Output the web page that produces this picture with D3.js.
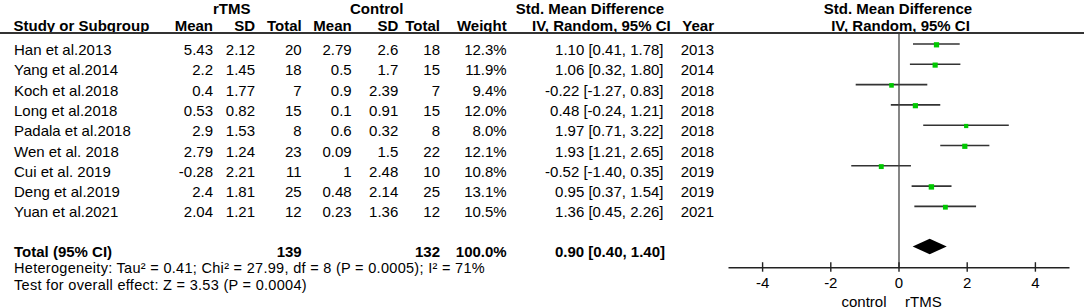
<!DOCTYPE html>
<html>
<head>
<meta charset="utf-8">
<script src="https://cdn.jsdelivr.net/npm/d3@7"></script>
<style>
  body { margin: 0; background: #fff; }
  text { font-family: "Liberation Sans", Arial, sans-serif; font-size: 15px; fill: #000; }
  .b { font-weight: bold; }
  .note { font-size: 14.5px; letter-spacing: 0.3px; }
</style>
</head>
<body>
<svg id="chart" width="1084" height="308"></svg>
<script>
// study data
const studies = ['Han et al.2013', 'Yang et al.2014', 'Koch et al.2018', 'Long et al.2018',
  'Padala et al.2018', 'Wen et al. 2018', 'Cui et al. 2019', 'Deng et al.2019', 'Yuan et al.2021']
const meanR = ['5.43', '2.2', '0.4', '0.53', '2.9', '2.79', '-0.28', '2.4', '2.04']
const sdR = ['2.12', '1.45', '1.77', '0.82', '1.53', '1.24', '2.21', '1.81', '1.21']
const totalR = [20, 18, 7, 15, 8, 23, 11, 25, 12]
const meanC = ['2.79', '0.5', '0.9', '0.1', '0.6', '0.09', '1', '0.48', '0.23']
const sdC = ['2.6', '1.7', '2.39', '0.91', '0.32', '1.5', '2.48', '2.14', '1.36']
const totalC = [18, 15, 7, 15, 8, 22, 10, 25, 12]
const weights = [12.3, 11.9, 9.4, 12.0, 8.0, 12.1, 10.8, 13.1, 10.5]
const smd = [1.10, 1.06, -0.22, 0.48, 1.97, 1.93, -0.52, 0.95, 1.36]
const lower = [0.41, 0.32, -1.27, -0.24, 0.71, 1.21, -1.40, 0.37, 0.45]
const upper = [1.78, 1.80, 0.83, 1.21, 3.22, 2.65, 0.35, 1.54, 2.26]
const years = [2013, 2014, 2018, 2018, 2018, 2018, 2019, 2019, 2021]

// pooled result
const pooled = { n1: 139, n2: 132, weight: '100.0%', est: 0.90, lo: 0.40, hi: 1.40 }
const hetText = 'Heterogeneity: Tau² = 0.41; Chi² = 27.99, df = 8 (P = 0.0005); I² = 71%'
const testText = 'Test for overall effect: Z = 3.53 (P = 0.0004)'
const xTicks = [-4, -2, 0, 2, 4]

const svg = d3.select('#chart')

// x scale for the forest panel
const x = d3.scaleLinear().domain([-5, 5]).range([728.5, 1069.5])

// row baselines
const rowBase = d3.scaleLinear().domain([0, 1]).range([55, 75.3])
const lineY = i => rowBase(i) - 11
const totalBase = 256.5
const axisY = 267.7

const fmt = v => v.toFixed(2)

// ---- header ----
const hdr = svg.append('g')
hdr.append('text').attr('class', 'b').attr('x', 231.7).attr('y', 13.5).attr('text-anchor', 'middle').text('rTMS')
hdr.append('text').attr('class', 'b').attr('x', 376.7).attr('y', 13.5).attr('text-anchor', 'middle').text('Control')
hdr.append('text').attr('class', 'b').attr('x', 590).attr('y', 13.5).attr('text-anchor', 'middle').text('Std. Mean Difference')
hdr.append('text').attr('class', 'b').attr('x', 898).attr('y', 13.5).attr('text-anchor', 'middle').text('Std. Mean Difference')
hdr.append('text').attr('class', 'b').attr('x', 900.5).attr('y', 30.5).attr('text-anchor', 'middle').text('IV, Random, 95% CI')

const cols = [
  { label: 'Mean', x: 213 },
  { label: 'SD', x: 255 },
  { label: 'Total', x: 301.7 },
  { label: 'Mean', x: 351.7 },
  { label: 'SD', x: 398.3 },
  { label: 'Total', x: 440 },
  { label: 'Weight', x: 506.7 },
  { label: 'IV, Random, 95% CI', x: 670.7 },
  { label: 'Year', x: 714 }
]
hdr.append('text').attr('class', 'b').attr('x', 13.5).attr('y', 30.5).text('Study or Subgroup')
hdr.selectAll('text.col').data(cols).enter().append('text')
  .attr('class', 'b col')
  .attr('x', d => d.x).attr('y', 30.5)
  .attr('text-anchor', 'end')
  .text(d => d.label)

svg.append('line')
  .attr('x1', 0).attr('x2', 1084).attr('y1', 33).attr('y2', 33)
  .attr('stroke', '#333').attr('stroke-width', 1.8)

// ---- study rows ----
const valueCols = [
  { x: 213, get: i => meanR[i] },
  { x: 255, get: i => sdR[i] },
  { x: 301.7, get: i => totalR[i] },
  { x: 351.7, get: i => meanC[i] },
  { x: 398.3, get: i => sdC[i] },
  { x: 440, get: i => totalC[i] },
  { x: 506.7, get: i => weights[i].toFixed(1) + '%' },
  { x: 663.5, get: i => `${fmt(smd[i])} [${fmt(lower[i])}, ${fmt(upper[i])}]` },
  { x: 714, get: i => years[i] }
]

const rows = svg.append('g').selectAll('g.row')
  .data(studies).enter().append('g').attr('class', 'row')

rows.append('text')
  .attr('x', 14).attr('y', (d, i) => rowBase(i))
  .text(d => d)

valueCols.forEach(c => {
  rows.append('text')
    .attr('x', c.x).attr('y', (d, i) => rowBase(i))
    .attr('text-anchor', 'end')
    .text((d, i) => c.get(i))
})

// ---- forest panel ----
// zero line
svg.append('line')
  .attr('x1', x(0)).attr('x2', x(0)).attr('y1', 34).attr('y2', axisY)
  .attr('stroke', '#444').attr('stroke-width', 1.3)

// confidence intervals
rows.append('line')
  .attr('x1', (d, i) => x(lower[i])).attr('x2', (d, i) => x(upper[i]))
  .attr('y1', (d, i) => lineY(i)).attr('y2', (d, i) => lineY(i))
  .attr('stroke', '#333').attr('stroke-width', 1.6)

// point estimates, sized by weight
const side = d3.scaleSqrt().domain([0, 13.1]).range([0, 5.4])
rows.append('rect')
  .attr('x', (d, i) => x(smd[i]) - side(weights[i]) / 2)
  .attr('y', (d, i) => lineY(i) + 0.8 - side(weights[i]) / 2)
  .attr('width', (d, i) => side(weights[i]))
  .attr('height', (d, i) => side(weights[i]))
  .attr('fill', '#00c800')

// pooled diamond
const dy = 246.5
svg.append('path')
  .attr('d', `M${x(pooled.lo)},${dy} L${x(pooled.est)},${dy - 7.8} L${x(pooled.hi)},${dy} L${x(pooled.est)},${dy + 7.8} Z`)
  .attr('fill', '#000')

// axis
const axis = svg.append('g')
axis.append('line')
  .attr('x1', x.range()[0]).attr('x2', x.range()[1]).attr('y1', axisY).attr('y2', axisY)
  .attr('stroke', '#222').attr('stroke-width', 1.6)
axis.selectAll('line.tick').data(xTicks).enter().append('line')
  .attr('class', 'tick')
  .attr('x1', d => x(d)).attr('x2', d => x(d))
  .attr('y1', axisY - 5.5).attr('y2', axisY + 4)
  .attr('stroke', '#222').attr('stroke-width', 1.4)
axis.selectAll('text').data(xTicks).enter().append('text')
  .attr('x', d => x(d)).attr('y', 288)
  .attr('text-anchor', 'middle')
  .text(d => d < 0 ? '-' + Math.abs(d) : d)

svg.append('text').attr('x', 886.5).attr('y', 306.5).attr('text-anchor', 'end').text('control')
svg.append('text').attr('x', 905).attr('y', 306.5).text('rTMS')

// ---- totals and footnotes ----
const tot = svg.append('g')
tot.append('text').attr('class', 'b').attr('x', 14).attr('y', totalBase).text('Total (95% CI)')
tot.append('text').attr('class', 'b').attr('x', 301.7).attr('y', totalBase).attr('text-anchor', 'end').text(pooled.n1)
tot.append('text').attr('class', 'b').attr('x', 440).attr('y', totalBase).attr('text-anchor', 'end').text(pooled.n2)
tot.append('text').attr('class', 'b').attr('x', 506.7).attr('y', totalBase).attr('text-anchor', 'end').text(pooled.weight)
tot.append('text').attr('class', 'b').attr('x', 665).attr('y', totalBase).attr('text-anchor', 'end')
  .text(`${fmt(pooled.est)} [${fmt(pooled.lo)}, ${fmt(pooled.hi)}]`)

svg.append('text').attr('class', 'note').attr('x', 14).attr('y', 273).text(hetText)
svg.append('text').attr('class', 'note').attr('x', 14).attr('y', 289.5).text(testText)
</script>
</body>
</html>
